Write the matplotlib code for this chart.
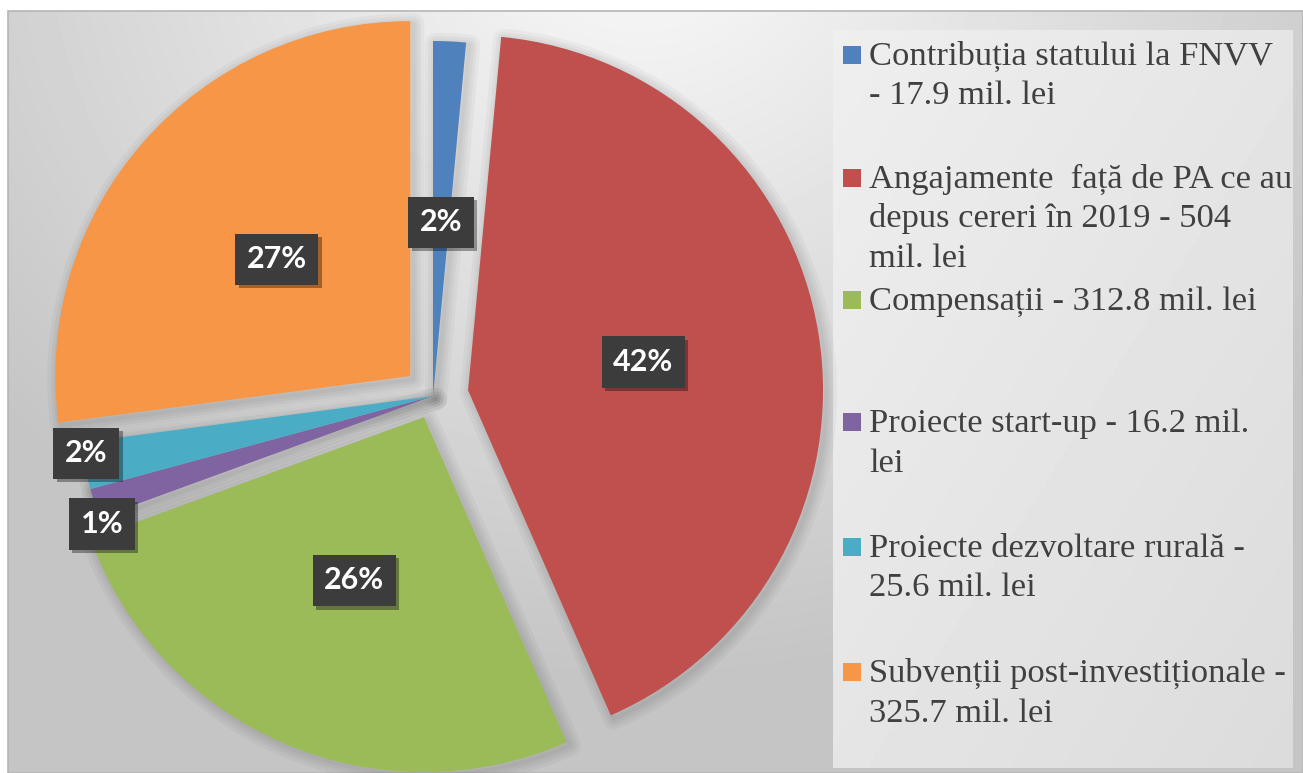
import numpy as np
import matplotlib.pyplot as plt
import matplotlib.patheffects as pe
from matplotlib.patches import Rectangle, Wedge
from matplotlib.transforms import ScaledTranslation

# data
names = ["Contribuția statului la FNVV\n- 17.9 mil. lei",
         "Angajamente  față de PA ce au\ndepus cereri în 2019 - 504\nmil. lei",
         "Compensații - 312.8 mil. lei",
         "Proiecte start-up - 16.2 mil.\nlei",
         "Proiecte dezvoltare rurală -\n25.6 mil. lei",
         "Subvenții post-investiționale -\n325.7 mil. lei"]
values = [17.9, 504, 312.8, 16.2, 25.6, 325.7]
pct_labels = ["2%", "42%", "26%", "1%", "2%", "27%"]
colors = ["#4f81bd", "#c0504d", "#9bbb59", "#8064a2", "#4bacc6", "#f79646"]

# layout (pixels)
W, H = 1303, 773
R = 355.0
cx, cy = 433, 396
explode = [0, 0.10, 0.065, 0, 0, 0.085]
lab_dist = [0.49, 0.5, 0.5, 1.0, 0.99, 0.5]
lab_dang = [0, 0, 0, 3.5, -2.0, 0]

fig = plt.figure(figsize=(W / 100, H / 100), dpi=100)

# background with soft radial gradient
bg = fig.add_axes([0, 0, 1, 1])
bg.set_xlim(0, W)
bg.set_ylim(H, 0)
bg.axis('off')
yy, xx = np.mgrid[0:H, 0:W]
d = np.hypot(xx - 640, (yy + 80) * 1.1)
grey = 0.96 - 0.19 * np.clip((d - 80) / 760, 0, 1)
grey[:11, :] = 1
grey[:, :8] = 1
bg.imshow(grey, cmap='gray', vmin=0, vmax=1, extent=(0, W, H, 0), aspect='auto')
bg.add_patch(Rectangle((8, 11), W - 8, H - 11, fill=False, ec='#b5b5b5', lw=1.2))

# legend panel
py, px = np.mgrid[0:100, 0:100]
pg = 0.935 - 0.075 * (px + py) / 198
bg.imshow(pg, cmap='gray', vmin=0, vmax=1, extent=(833, 1293, 768, 30), aspect='auto')

# pie
ax = fig.add_axes([0, 0, 1, 1])
ax.patch.set_alpha(0)
wedges, _ = ax.pie(values, colors=colors, startangle=90, counterclock=False,
                   explode=explode, radius=1, wedgeprops=dict(linewidth=0))
ax.set_aspect('auto')
ax.set_xlim(-cx / R, (W - cx) / R)
ax.set_ylim(-(H - cy) / R, cy / R)
ax.axis('off')

# soft shadow under slices
sh = ax.transData + ScaledTranslation(3 / 100, -3 / 100, fig.dpi_scale_trans)
for w in wedges:
    for lw in [16, 11, 7, 3]:
        s = Wedge(w.center, w.r, w.theta1, w.theta2, fc='none', ec='k',
                  lw=lw, alpha=0.03, transform=sh, zorder=0.5)
        s.set_joinstyle('round')
        ax.add_patch(s)

# percentage labels
for i, w in enumerate(wedges):
    ang = np.deg2rad((w.theta1 + w.theta2) / 2 + lab_dang[i])
    x = w.center[0] + lab_dist[i] * np.cos(ang)
    y = w.center[1] + lab_dist[i] * np.sin(ang)
    t = ax.text(x, y, pct_labels[i], color='white', zorder=5, ha='center', va='center',
                fontsize=22, fontweight='bold', family='Lato',
                bbox=dict(boxstyle='square,pad=0.38', fc='#3c3c3c', ec='none'))
    t.get_bbox_patch().set_path_effects(
        [pe.SimplePatchShadow(offset=(2.5, -2.5), shadow_rgbFace='k', alpha=0.35), pe.Normal()])

# legend
baselines = [65, 188, 310, 432, 557, 682]
for i, txt in enumerate(names):
    b = baselines[i]
    bg.add_patch(Rectangle((843, b - 19), 18, 18, fc=colors[i], ec='none'))
    for j, line in enumerate(txt.split("\n")):
        bg.text(869, b + j * 39.5, line, va='baseline', ha='left', fontsize=24.8,
                family='Liberation Serif', color='#404040')

fig.savefig("out.png", dpi=100)
